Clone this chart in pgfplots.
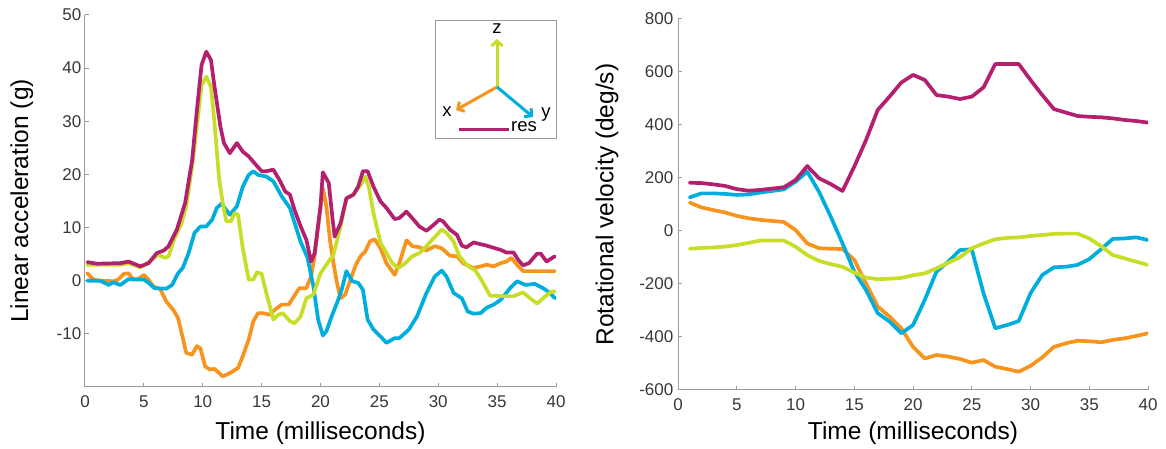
\documentclass[border=0pt]{standalone}
\usepackage{pgfplots}
\pgfplotsset{compat=1.18}
\usepackage{fontspec}
\setmainfont{Liberation Sans}
\usetikzlibrary{arrows.meta}
\definecolor{cres}{RGB}{178,32,110}
\definecolor{cx}{RGB}{247,148,30}
\definecolor{cy}{RGB}{0,174,222}
\definecolor{cz}{RGB}{200,221,40}
\definecolor{axgray}{RGB}{155,155,155}
\definecolor{tickgray}{RGB}{55,55,55}
\begin{document}
\begin{tikzpicture}[x=1pt,y=1pt]
\pgfplotsset{myax/.style={
  scale only axis, anchor=south west,
  axis x line=bottom, axis y line=left,
  axis line style={draw=axgray, line width=1pt, -},
  tick style={draw=axgray, line width=1pt},
  tick align=inside, major tick length=4pt,
  xmin=0, xmax=40, xtick={0,5,...,40},
  ticklabel style={font=\fontsize{17}{17}\selectfont, text=tickgray},
  xticklabel style={yshift=-5pt},
  /pgf/number format/assume math mode=true,
  label style={font=\fontsize{24.5}{24.5}\selectfont},
  every axis plot/.append style={line width=3.7pt, line join=round, line cap=round},
}}
\begin{axis}[myax, at={(85pt,62pt)}, width=471pt, height=372pt,
  ymin=-20, ymax=50, ytick={-10,0,...,50},
  yticklabel style={inner xsep=3.5pt},
  xlabel={Time (milliseconds)}, ylabel={Linear acceleration (g)},
  xlabel style={at={(axis description cs:0.5,-0.124)}, anchor=center},
  ylabel style={at={(axis description cs:-0.134,0.5)}, anchor=center}]
\addplot[cx] coordinates {(0.2,1.4)(0.7,0.2)(1.3,0)(2.4,-0.1)(2.8,0.2)(3.3,1.3)(3.7,1.4)(4.1,0.2)(4.5,0.3)(5.0,1.1)(5.4,0.2)(5.8,-1.1)(6.4,-1.6)(6.9,-3.9)(7.5,-5.5)(7.9,-7)(8.2,-9.8)(8.6,-13.6)(9.1,-13.9)(9.5,-12.3)(9.8,-12.7)(10.2,-16.1)(10.6,-16.7)(11.0,-16.6)(11.7,-18)(12.3,-17.4)(13.0,-16.4)(13.4,-14.2)(13.9,-11.1)(14.3,-7.6)(14.7,-6.1)(15.1,-6.1)(15.7,-6.4)(16.1,-5.5)(16.7,-4.5)(17.3,-4.5)(17.7,-3.1)(18.2,-1.4)(18.8,-1.4)(19.2,0.8)(19.5,4.6)(19.8,10.2)(20.2,17.4)(20.5,14)(20.8,7.7)(21.1,3.3)(21.4,-0.4)(21.7,-3.3)(22.1,-2.6)(22.5,-0.1)(23.0,3)(23.4,4.6)(23.8,5.5)(24.2,7.4)(24.6,7.8)(25.1,6.1)(25.6,3.3)(26.3,1.1)(26.7,3.3)(27.3,7.6)(27.8,6.5)(28.4,6.3)(29.0,5.7)(29.7,6.5)(30.3,6.1)(31.0,4.7)(31.6,4.6)(32.1,3.3)(33.0,2.4)(33.6,2.7)(34.1,3.0)(34.7,2.7)(35.3,3.3)(35.8,3.6)(36.2,4.3)(36.7,3.0)(37.2,1.8)(39.9,1.8)};
\addplot[cy] coordinates {(0.2,0)(1.3,0)(2.0,-0.8)(2.4,-0.3)(3.0,-0.8)(3.7,0.3)(5.0,0.2)(5.4,-0.4)(5.9,-1.4)(6.9,-1.5)(7.4,-0.8)(7.9,1.4)(8.3,2.4)(8.8,5.2)(9.3,9)(9.8,10.2)(10.3,10.2)(10.8,11.5)(11.2,13.7)(11.6,14.5)(12.3,12.4)(12.9,14)(13.4,17.7)(13.9,19.9)(14.3,20.6)(14.7,19.9)(15.4,19.6)(16.0,18.7)(16.7,15.9)(17.4,13.7)(18.3,7.4)(18.9,4.3)(19.4,-1.1)(19.8,-7.3)(20.2,-10.3)(20.5,-9.5)(21.0,-6.4)(21.4,-4.2)(21.8,-1.7)(22.2,1.8)(22.7,-0.1)(23.2,-0.4)(23.6,-1.7)(24.0,-7.3)(24.5,-9.2)(25.1,-10.5)(25.6,-11.7)(26.3,-10.8)(26.7,-10.8)(27.5,-9.2)(28.2,-6.7)(29.0,-2.3)(29.7,0.8)(30.3,1.9)(30.7,0.8)(31.3,-2.3)(32.0,-3.3)(32.5,-5.8)(33.0,-6.2)(33.6,-6.1)(34.1,-5.1)(34.7,-4.5)(35.3,-3.6)(36.1,-1.4)(36.7,-0.1)(37.4,-0.8)(38.2,-0.6)(38.9,-1.4)(39.5,-2.3)(39.9,-3.3)};
\addplot[cz] coordinates {(0.2,3.0)(3.0,3.0)(3.7,3.3)(4.7,2.5)(5.5,3.6)(6.2,4.9)(6.8,4.3)(7.1,4.6)(7.6,8)(8.2,10.8)(8.6,14)(9.1,21.5)(9.5,29)(9.9,36.8)(10.3,38.4)(10.7,36.5)(11.0,29.6)(11.4,19)(11.7,14.6)(12.0,11.2)(12.4,11.2)(12.7,12.7)(13.0,12.4)(13.4,6.1)(13.9,0.2)(14.3,0.2)(14.6,1.6)(15.0,1.3)(15.4,-2.3)(16.0,-7.3)(16.4,-6.4)(16.8,-6.1)(17.4,-7.6)(17.8,-8)(18.3,-6.8)(18.8,-3.3)(19.4,-2.6)(20.0,1.4)(20.5,3)(21.1,4.9)(21.7,10.2)(22.2,15.5)(22.8,16.2)(23.4,18)(23.8,19.6)(24.1,17.7)(24.5,12.7)(25.1,7.1)(25.6,5.2)(26.1,3.3)(26.6,2.4)(27.2,3.3)(27.8,4.6)(28.4,5.2)(29.0,6.5)(29.6,8)(30.3,9.6)(30.7,9)(31.3,7.4)(31.8,4.6)(32.4,3)(33.2,1.8)(33.8,-0.4)(34.4,-2.8)(35.3,-2.9)(36.4,-2.9)(37.2,-2.2)(37.8,-3.3)(38.4,-4.3)(38.9,-3.3)(39.5,-2.2)(39.9,-2.0)};
\addplot[cres] coordinates {(0.2,3.5)(1.0,3.2)(3.0,3.3)(3.7,3.6)(4.7,2.7)(5.4,3.3)(6.1,5.2)(6.7,5.7)(7.1,6.5)(7.8,9.6)(8.5,14.6)(9.1,22.7)(9.5,32)(9.9,40.6)(10.3,43.1)(10.7,41.5)(11.0,36.5)(11.5,29)(11.8,25.9)(12.3,24)(12.9,25.9)(13.4,24.3)(13.9,23.4)(14.4,22.1)(15.0,20.6)(15.4,20.6)(16.0,20.9)(16.6,18.6)(17.0,16.8)(17.4,16.2)(17.8,13.3)(18.3,10.3)(18.8,7.7)(19.2,3.6)(19.5,5.2)(20.0,14)(20.2,20.4)(20.7,18.4)(21.0,12.1)(21.2,8.3)(21.7,10.8)(22.2,15.5)(22.8,16.2)(23.2,17.7)(23.6,20.6)(24.0,20.6)(24.5,17.7)(25.1,14.9)(25.6,13.7)(26.3,11.6)(26.7,11.8)(27.3,13)(27.9,11.5)(28.4,10.2)(29.0,9.4)(29.6,10.5)(30.1,11.5)(30.4,11.2)(31.0,9.6)(31.6,8.6)(32.0,6.6)(32.4,6.3)(33.0,7.2)(34.1,6.6)(35.3,5.8)(35.8,5.3)(36.4,5.3)(36.8,3.9)(37.2,2.9)(37.7,3.3)(38.4,5.1)(38.7,5.1)(39.2,3.6)(39.9,4.6)};
\end{axis}
\begin{axis}[myax, at={(678pt,59pt)}, width=470pt, height=371pt,
  ymin=-600, ymax=800, ytick={-600,-400,...,800},
  yticklabel style={inner xsep=4.5pt},
  xlabel={Time (milliseconds)}, ylabel={Rotational velocity (deg/s)},
  xlabel style={at={(axis description cs:0.5,-0.116)}, anchor=center},
  ylabel style={at={(axis description cs:-0.151,0.5)}, anchor=center}]
\addplot[cx] coordinates {(1,107)(2,89)(3,79)(4,70)(5,57)(6,48)(7,42)(8,38)(9,34)(10,4)(11,-47)(12,-65)(13,-67)(14,-68)(15,-109)(16,-198)(17,-285)(18,-323)(19,-367)(20,-437)(21,-481)(22,-468)(23,-474)(24,-483)(25,-497)(26,-487)(27,-512)(28,-521)(29,-531)(30,-509)(31,-477)(32,-437)(33,-424)(34,-414)(35,-416)(36,-420)(37,-411)(38,-405)(39,-396)(40,-386)};
\addplot[cy] coordinates {(1,127)(2,142)(3,142)(4,140)(5,136)(6,138)(7,145)(8,151)(9,157)(10,186)(11,224)(12,148)(13,54)(14,-47)(15,-153)(16,-223)(17,-310)(18,-342)(19,-386)(20,-355)(21,-260)(22,-153)(23,-116)(24,-72)(25,-69)(26,-235)(27,-367)(28,-355)(29,-340)(30,-235)(31,-166)(32,-137)(33,-135)(34,-128)(35,-106)(36,-69)(37,-30)(38,-28)(39,-24)(40,-34)};
\addplot[cz] coordinates {(1,-67)(2,-64)(3,-62)(4,-59)(5,-53)(6,-45)(7,-36)(8,-36)(9,-36)(10,-59)(11,-91)(12,-113)(13,-125)(14,-135)(15,-157)(16,-176)(17,-182)(18,-180)(19,-177)(20,-167)(21,-160)(22,-141)(23,-120)(24,-99)(25,-65)(26,-47)(27,-31)(28,-26)(29,-24)(30,-19)(31,-15)(32,-11)(33,-10)(34,-10)(35,-28)(36,-57)(37,-91)(38,-103)(39,-116)(40,-128)};
\addplot[cres] coordinates {(1,182)(2,181)(3,176)(4,170)(5,158)(6,152)(7,155)(8,160)(9,165)(10,192)(11,245)(12,199)(13,177)(14,151)(15,243)(16,343)(17,457)(18,507)(19,560)(20,589)(21,570)(22,513)(23,507)(24,498)(25,507)(26,542)(27,630)(28,630)(29,630)(30,570)(31,513)(32,460)(33,447)(34,434)(35,431)(36,429)(37,425)(38,419)(39,415)(40,409)};
\end{axis}
% inset legend
\draw[axgray, line width=1pt] (435,310) rectangle (556,428);
\draw[cz, line width=3pt, -{Straight Barb[length=5pt,width=11pt]}] (497,362) -- (497,410);
\draw[cx, line width=3pt, -{Straight Barb[length=5pt,width=11pt]}] (497,362) -- (456,339);
\draw[cy, line width=3pt, -{Straight Barb[length=5pt,width=11pt]}] (497,362) -- (533,332);
\draw[cres, line width=3pt] (459,319) -- (509,319);
\node[font=\fontsize{18.5}{18.5}\selectfont] at (497,420) {z};
\node[font=\fontsize{18.5}{18.5}\selectfont] at (447,337) {x};
\node[font=\fontsize{18.5}{18.5}\selectfont] at (546,334) {y};
\node[font=\fontsize{18.5}{18.5}\selectfont] at (524,322) {res};
\pgfresetboundingbox
\path[use as bounding box] (0,0) rectangle (1166,449);
\end{tikzpicture}
\end{document}
